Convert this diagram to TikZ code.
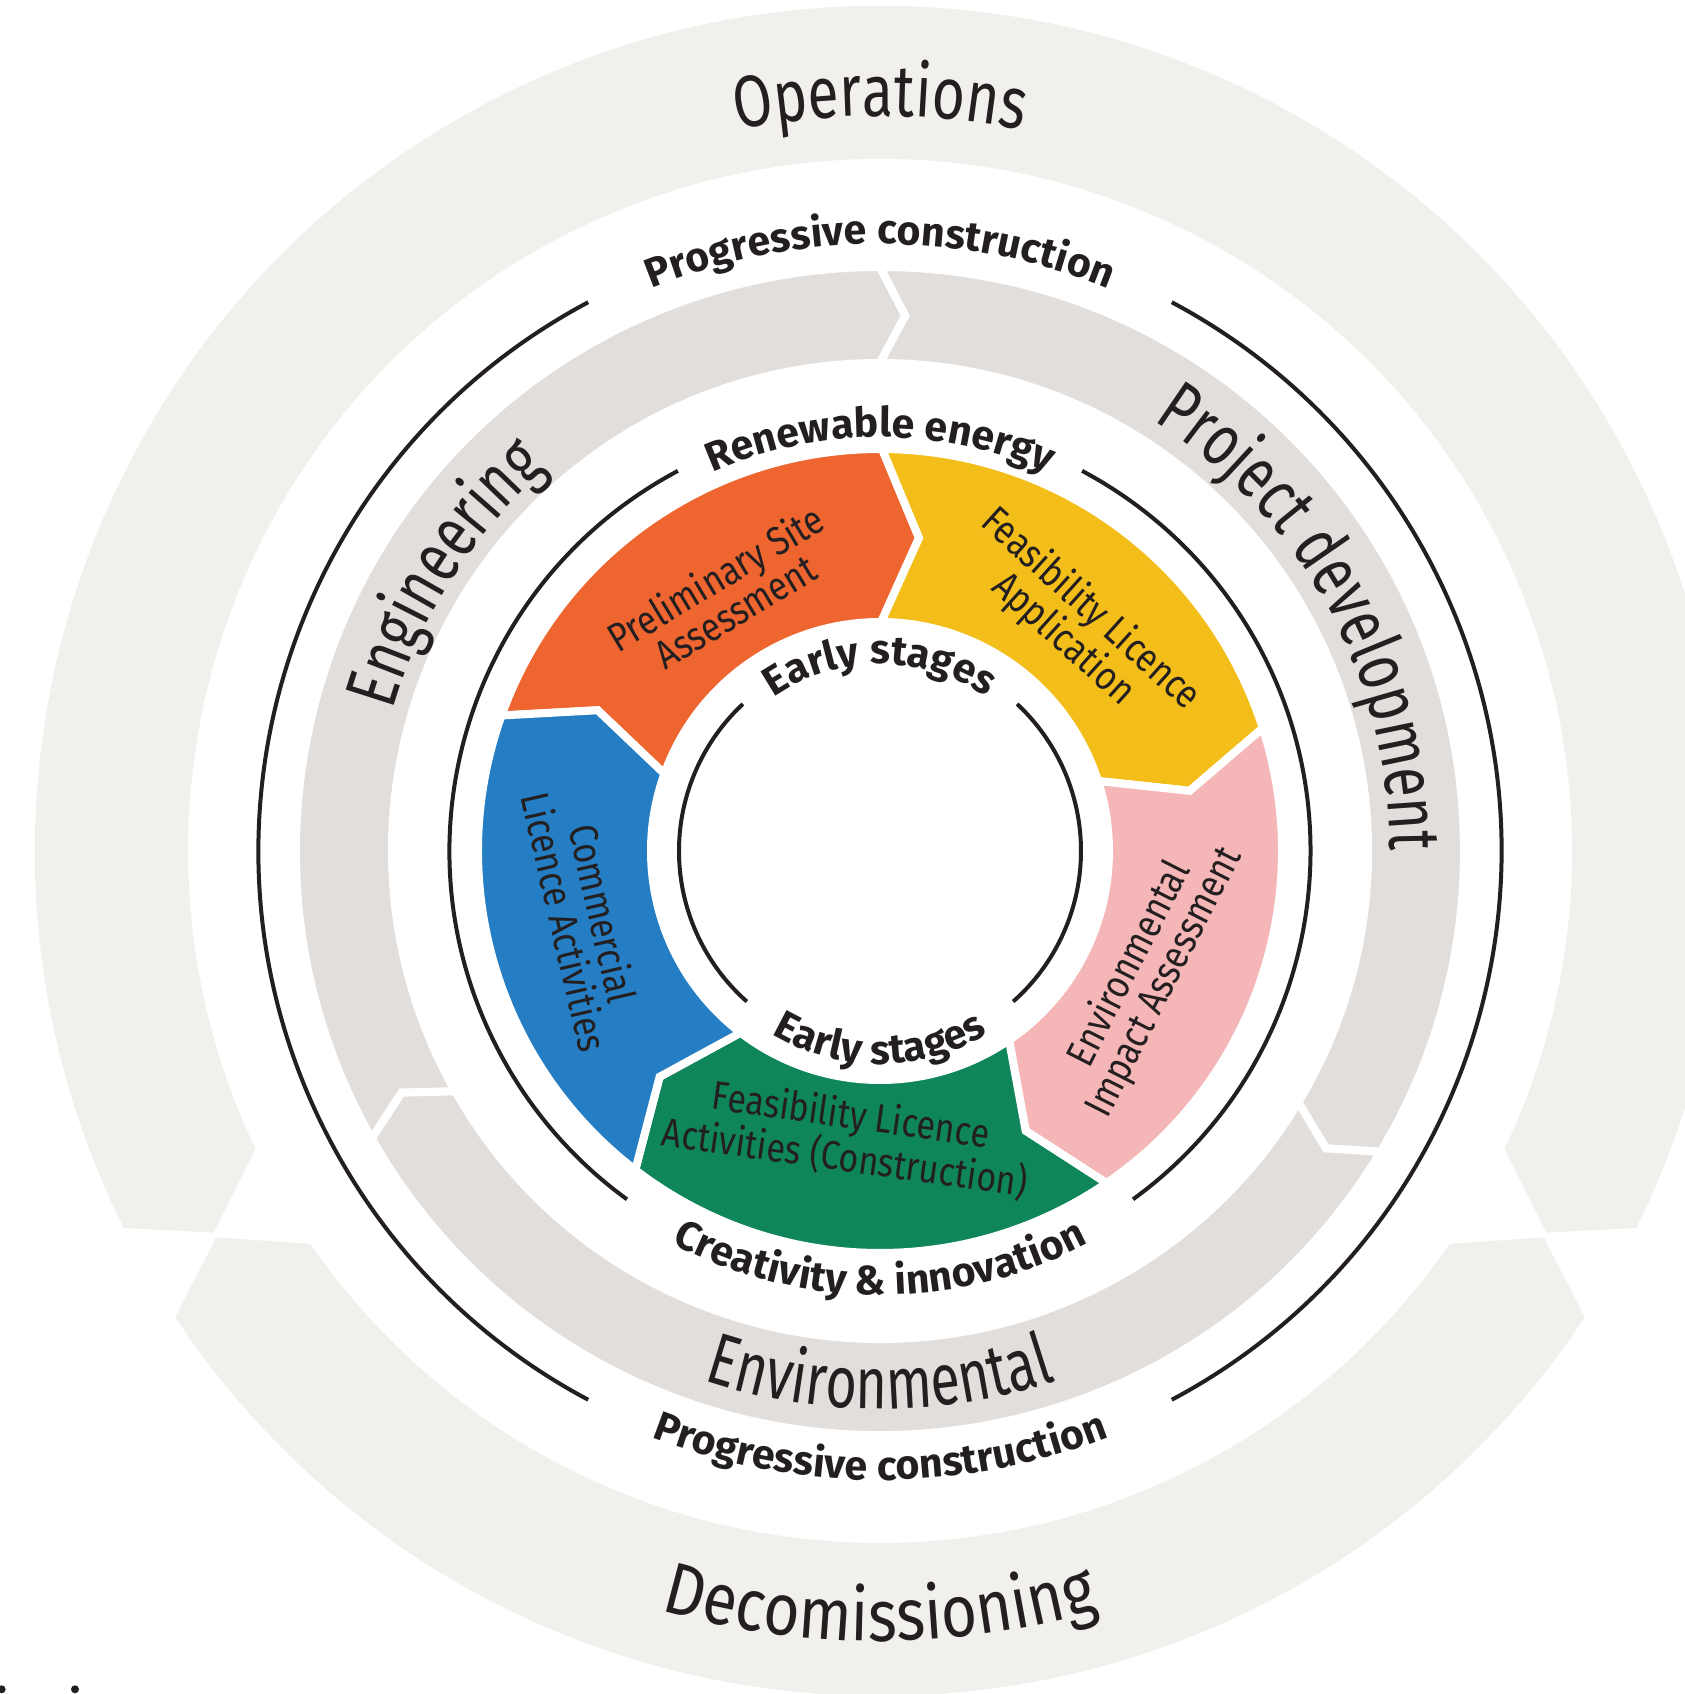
\documentclass[tikz,border=0pt]{standalone}
\usepackage{fontspec}
\setmainfont{Fira Sans}
\newfontfamily\bigfont{Fira Sans}[FakeStretch=0.78]
\newfontfamily\narrowfont{Fira Sans}[FakeStretch=0.74]
\newfontfamily\widefont{Fira Sans}[FakeStretch=0.85]
\newfontfamily\segfont{Fira Sans}[FakeStretch=0.85]
\newfontfamily\lblfont{Fira Sans}
\usetikzlibrary{decorations.text}

\definecolor{ink}{HTML}{231F20}
\definecolor{paleband}{HTML}{F1F0ED}
\definecolor{greyband}{HTML}{E2DEDC}
\definecolor{segorange}{HTML}{EE6530}
\definecolor{segyellow}{HTML}{F3BE1A}
\definecolor{segpink}{HTML}{F4B6B6}
\definecolor{seggreen}{HTML}{0F855A}
\definecolor{segblue}{HTML}{257EC3}

\newcommand\biglabel{\bigfont\fontsize{73}{78}\selectfont}
\newcommand\narrowlabel{\narrowfont\fontsize{73}{78}\selectfont}
\newcommand\widelabel{\widefont\fontsize{73}{78}\selectfont}
\newcommand\boldlabel{\lblfont\bfseries\fontsize{41}{44}\selectfont}
\newcommand\seglabel{\segfont\fontsize{40}{39}\selectfont}

% ring piece with a chevron: start, end, inner r, outer r, tip offset, style
\newcommand\chevron[6]{%
  \path[#6] (#1:#4) arc[start angle=#1, end angle=#2, radius=#4pt]
    -- ({#2-#5}:{(#3+#4)/2}) -- (#2:#3)
    arc[start angle=#2, end angle=#1, radius=#3pt]
    -- ({#1-#5}:{(#3+#4)/2}) -- cycle;}
% text on an arc: centre angle, half span, radius, text
\newcommand\toptext[4]{%
  \path[decorate, decoration={text along path, text align=center,
    text color=ink, text={#4}}]
    ({#1+#2}:#3) arc[start angle={#1+#2}, end angle={#1-#2}, radius=#3pt];}
\newcommand\bottext[4]{%
  \path[decorate, decoration={text along path, text align=center,
    text color=ink, text={#4}}]
    ({#1-#2}:#3) arc[start angle={#1-#2}, end angle={#1+#2}, radius=#3pt];}

\begin{document}
\begin{tikzpicture}[x=1pt, y=1pt,
  ring/.style={fill=#1, draw=white, line width=8pt},
  circ/.style={draw=ink, line width=4pt},
  seglbl/.style={font=\seglabel, text=ink, align=center, inner sep=0pt}]

  \useasboundingbox (-880,-843) rectangle (805,851);
  \clip (-880,-843) rectangle (805,851);
  \fill[white] (-880,-843) rectangle (805,851);

  % outer band
  \fill[paleband] (206.5:845) arc[start angle=206.5, end angle=-26.5, radius=845pt]
    -- (-29.8:768) -- (-25.5:692) arc[start angle=-25.5, end angle=205.5, radius=692pt]
    -- (209.8:768) -- cycle;
  \fill[paleband] (213.5:845) arc[start angle=213.5, end angle=326.5, radius=845pt]
    -- (329.8:768) -- (325.4:692) arc[start angle=325.4, end angle=214.6, radius=692pt]
    -- (210.2:768) -- cycle;

  % middle band
  \foreach \s/\e in {209.5/90, 90/-31, -31/-150.5}
    \chevron{\s}{\e}{488}{584}{2.7}{ring=greyband};

  % stages
  \foreach \s/\e/\c in {160.3/89.7/segorange, 89.7/17.8/segyellow,
      17.8/-55.7/segpink, -55.7/-127.5/seggreen, -127.5/-199.7/segblue}
    \chevron{\s}{\e}{229}{402}{6.8}{ring=\c};

  % circles
  \foreach \r/\s/\e in {621.5/-62/62, 621.5/118/242, 430.5/-54/62,
      430.5/118/234, 201/-48.5/47, 201/133/228.5}
    \draw[circ] (\s:\r) arc[start angle=\s, end angle=\e, radius=\r pt];

  \node[seglbl, rotate=31] (psa) at (121.1:300) {Preliminary Site\\Assessment};
  \node[seglbl, rotate=-42] (fla) at (49:300) {Feasibility Licence\\Application};
  \node[seglbl, rotate=63] (eia) at (-24.6:294) {Environmental\\Impact Assessment};
  \node[seglbl, rotate=-8] (flc) at (263.6:288) {Feasibility Licence\\Activities (Construction)};
  \node[seglbl, rotate=-77] (cla) at (192.7:303) {Commercial\\Licence Activities};

  \toptext{90}{30}{735}{|\biglabel|Operations}
  \toptext{147.5}{38}{507}{|\narrowlabel|Engineering}
  \toptext{28.8}{45}{510}{|\narrowlabel|Project development}
  \bottext{270}{38}{558}{|\narrowlabel|Environmental}
  \bottext{270}{34}{790}{|\widelabel|Decomissioning}
  \toptext{90}{40}{607}{|\boldlabel|Progressive construction}
  \bottext{270}{40}{629}{|\boldlabel|Progressive construction}
  \toptext{90}{40}{414}{|\boldlabel|Renewable energy}
  \bottext{270}{45}{444}{|\boldlabel|Creativity {\&} innovation}
  \toptext{90}{60}{187}{|\boldlabel|Early stages}
  \bottext{270}{60}{213}{|\boldlabel|Early stages}

  \fill[ink] (-878.3,-838.3) circle[radius=4pt];
  \fill[ink] (-805,-838.3) circle[radius=4pt];
\end{tikzpicture}
\end{document}
